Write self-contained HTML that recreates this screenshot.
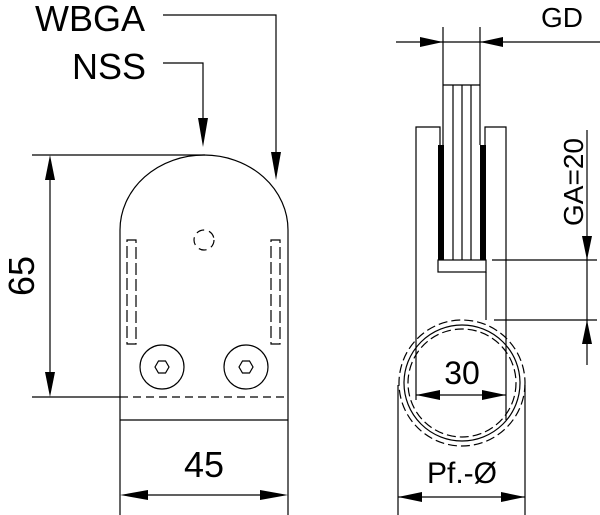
<!DOCTYPE html>
<html><head><style>body{margin:0;background:#fff}svg{display:block}</style></head><body>
<svg width="600" height="515" viewBox="0 0 600 515" xmlns="http://www.w3.org/2000/svg" font-family="Liberation Sans, sans-serif">
<g stroke="#000" stroke-width="1.2" fill="none">
<!-- left view -->
<path d="M120 515 V230 A84 75 0 0 1 288 230 V515"/>
<line x1="32" y1="155" x2="205" y2="155"/>
<line x1="32" y1="397" x2="120" y2="397"/>
<line x1="120" y1="397" x2="288" y2="397" stroke-dasharray="8,5"/>
<line x1="120" y1="420" x2="288" y2="420"/>
<line x1="50" y1="160" x2="50" y2="392"/>
<line x1="125" y1="495" x2="283" y2="495"/>
<polyline points="163,15 276,15 276,160"/>
<polyline points="163,63 203,63 203,130"/>
<rect x="127" y="240" width="9" height="104" stroke-dasharray="12,4"/>
<rect x="271" y="240" width="9" height="104" stroke-dasharray="12,4"/>
<circle cx="204" cy="240" r="10" stroke-dasharray="8,5"/>
<circle cx="162" cy="367" r="22"/><circle cx="246" cy="367" r="22"/>
<polygon points="155,367 158.5,361 165.5,361 169,367 165.5,373 158.5,373"/>
<polygon points="239,367 242.5,361 249.5,361 253,367 249.5,373 242.5,373"/>
<!-- right view -->
<line x1="396" y1="42" x2="600" y2="42"/>
<line x1="443" y1="27" x2="443" y2="145"/>
<line x1="480" y1="27" x2="480" y2="145"/>
<line x1="443" y1="85" x2="480" y2="85"/>
<line x1="453" y1="85" x2="453" y2="260"/><line x1="462" y1="85" x2="462" y2="260"/><line x1="471" y1="85" x2="471" y2="260"/>
<polyline points="440,145 440,127 416,127 416,400"/>
<polyline points="485,145 485,127 506,127 506,420"/>
<rect x="438" y="260" width="48" height="12"/>
<line x1="486" y1="272" x2="486" y2="320"/>
<circle cx="462" cy="383" r="58"/>
<circle cx="462" cy="383" r="63" stroke-dasharray="9,4"/>
<circle cx="462" cy="383" r="54" stroke-dasharray="9,4"/>
<line x1="587" y1="130" x2="587" y2="365"/>
<line x1="492" y1="260" x2="597" y2="260"/>
<line x1="494" y1="320" x2="597" y2="320"/>
<line x1="416" y1="395" x2="506" y2="395"/>
<line x1="398" y1="385" x2="398" y2="515"/><line x1="525" y1="385" x2="525" y2="515"/>
<line x1="398" y1="497" x2="525" y2="497"/>
</g>
<g fill="#000">
<rect x="438" y="145" width="6" height="115"/><rect x="480" y="145" width="6" height="115"/>
<polygon points="50,155 45,180 55,180"/><polygon points="50,397 45,372 55,372"/>
<polygon points="120,495 148,490 148,500"/><polygon points="288,495 260,490 260,500"/>
<polygon points="276,180 271,152 281,152"/><polygon points="203,147 198,118 208,118"/>
<polygon points="443,42 420,37 420,47"/><polygon points="480,42 503,37 503,47"/>
<polygon points="587,260 582,236 592,236"/><polygon points="587,320 582,344 592,344"/>
<polygon points="416,395 440,390 440,400"/><polygon points="506,395 482,390 482,400"/>
<polygon points="398,497 422,492 422,502"/><polygon points="525,497 501,492 501,502"/>
</g>
<g font-size="36" fill="#000">
<text x="35" y="31">WBGA</text>
<text x="72" y="79">NSS</text>
<text x="204" y="477" text-anchor="middle">45</text>
<text transform="translate(34,276) rotate(-90)" text-anchor="middle">65</text>
<text x="462" y="384" text-anchor="middle" font-size="32">30</text>
<text x="462" y="483" text-anchor="middle" font-size="30">Pf.-Ø</text>
<text x="562" y="27" text-anchor="middle" font-size="28">GD</text>
<text transform="translate(583,182) rotate(-90)" text-anchor="middle" font-size="28">GA=20</text>
</g>
</svg>
</body></html>
